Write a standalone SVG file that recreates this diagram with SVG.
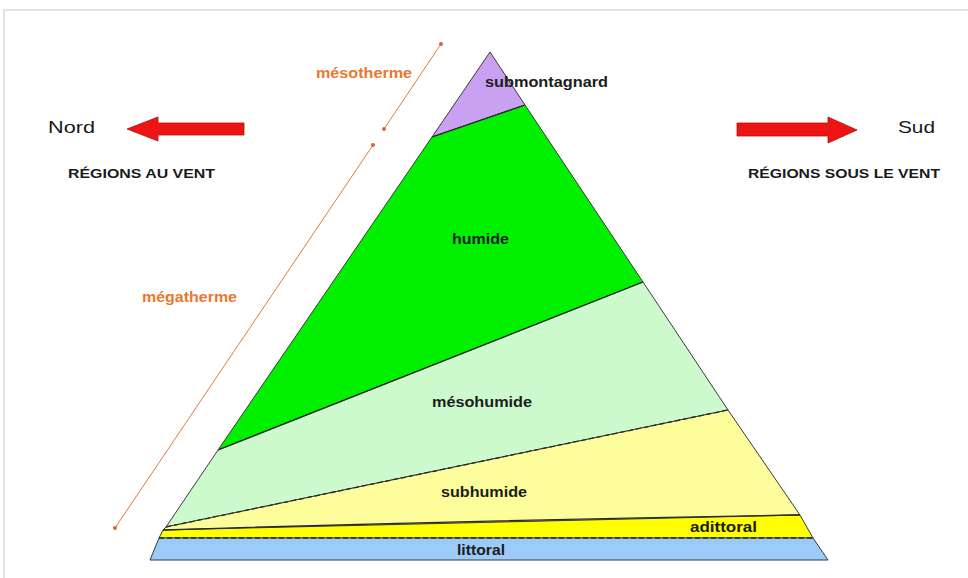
<svg xmlns="http://www.w3.org/2000/svg" width="968" height="578" viewBox="0 0 968 578">
<style>
.lbl{font-family:"Liberation Sans",Arial,sans-serif;font-weight:bold;font-size:15px;fill:#1c1c1c}
.hdr{font-family:"Liberation Sans",Arial,sans-serif;font-weight:bold;font-size:13px;fill:#1a1a1a}
.dir{font-family:"Liberation Sans",Arial,sans-serif;font-size:17px;fill:#1a1a1a}
.org{font-family:"Liberation Sans",Arial,sans-serif;font-weight:bold;font-size:14px;fill:#e8782e}
.zone{stroke:#3a3a3a;stroke-width:1;stroke-linejoin:round}
.solid{fill:none;stroke:#2a2a2a;stroke-width:1.3}
.dash{fill:none;stroke:#2a2a2a;stroke-width:1.3;stroke-dasharray:5 3}
.arrow{fill:#ee1414;stroke:#b01010;stroke-width:0.8}
.scale{stroke:#e07a3c;stroke-width:1;fill:none}
.dot{fill:#e0603a}
</style>
<rect x="0" y="0" width="968" height="578" fill="#ffffff"/>
<path d="M4,578 V10 H968" fill="none" stroke="#e2e2e2" stroke-width="2"/>

<g id="zone-submontagnard">
<polygon class="zone" fill="#c9a0f2" points="490,52 525,105 432,137"/>
<text class="lbl" x="485" y="87" textLength="123" lengthAdjust="spacingAndGlyphs" fill="#241a3a">submontagnard</text>
</g>
<g id="zone-humide">
<polygon class="zone" fill="#00f000" points="432,137 525,105 643,282 218,450"/>
<text class="lbl" x="452" y="244" textLength="57" lengthAdjust="spacingAndGlyphs" fill="#113311">humide</text>
</g>
<g id="zone-mesohumide">
<polygon class="zone" fill="#ccfacc" points="218,450 643,282 728,410 166,527"/>
<text class="lbl" x="432" y="407" textLength="100" lengthAdjust="spacingAndGlyphs">mésohumide</text>
</g>
<g id="zone-subhumide">
<polygon class="zone" fill="#fdfd9c" points="166,527 728,410 800,515 163,530"/>
<text class="lbl" x="441" y="497" textLength="86" lengthAdjust="spacingAndGlyphs">subhumide</text>
</g>
<g id="zone-adittoral">
<polygon class="zone" fill="#ffff00" points="163,530 800,515 813,538 159,538"/>
<text class="lbl" x="690" y="532" font-size="14" textLength="67" lengthAdjust="spacingAndGlyphs">adittoral</text>
</g>
<g id="zone-littoral">
<polygon class="zone" fill="#9ccbf8" points="159,538 813,538 828,560 150,560"/>
<text class="lbl" x="457" y="555" font-size="14" textLength="48" lengthAdjust="spacingAndGlyphs" fill="#1a2030">littoral</text>
</g>

<g id="connectors">
<path class="solid" d="M432,137 L525,105"/>
<path class="solid" d="M218,450 L643,282"/>
<path class="dash" d="M166,527 L728,410"/>
<path class="solid" d="M163,530 Q480,520 800,515"/>
<path class="dash" d="M159,538 L813,538"/>
<path class="scale" d="M441,44 L384,129"/>
<path class="scale" d="M373,145 L115,528"/>
<circle class="dot" cx="441" cy="44" r="2"/>
<circle class="dot" cx="384" cy="129" r="2"/>
<circle class="dot" cx="373" cy="145" r="2"/>
<circle class="dot" cx="115" cy="528" r="2"/>
</g>

<g id="label-mesotherme">
<text class="org" x="316" y="78" textLength="96" lengthAdjust="spacingAndGlyphs">mésotherme</text>
</g>
<g id="label-megatherme">
<text class="org" x="142" y="302" textLength="95" lengthAdjust="spacingAndGlyphs">mégatherme</text>
</g>

<g id="nord">
<polygon class="arrow" points="127,129 158,117 158,123 244,123 244,135 158,135 158,141"/>
<text class="dir" x="48" y="133" textLength="47" lengthAdjust="spacingAndGlyphs">Nord</text>
<text class="hdr" x="68" y="178" textLength="147" lengthAdjust="spacingAndGlyphs">RÉGIONS AU VENT</text>
</g>
<g id="sud">
<polygon class="arrow" points="857,130 828,117 828,123 737,123 737,136 828,136 828,143"/>
<text class="dir" x="898" y="133" textLength="37" lengthAdjust="spacingAndGlyphs">Sud</text>
<text class="hdr" x="748" y="178" textLength="192" lengthAdjust="spacingAndGlyphs">RÉGIONS SOUS LE VENT</text>
</g>
</svg>
